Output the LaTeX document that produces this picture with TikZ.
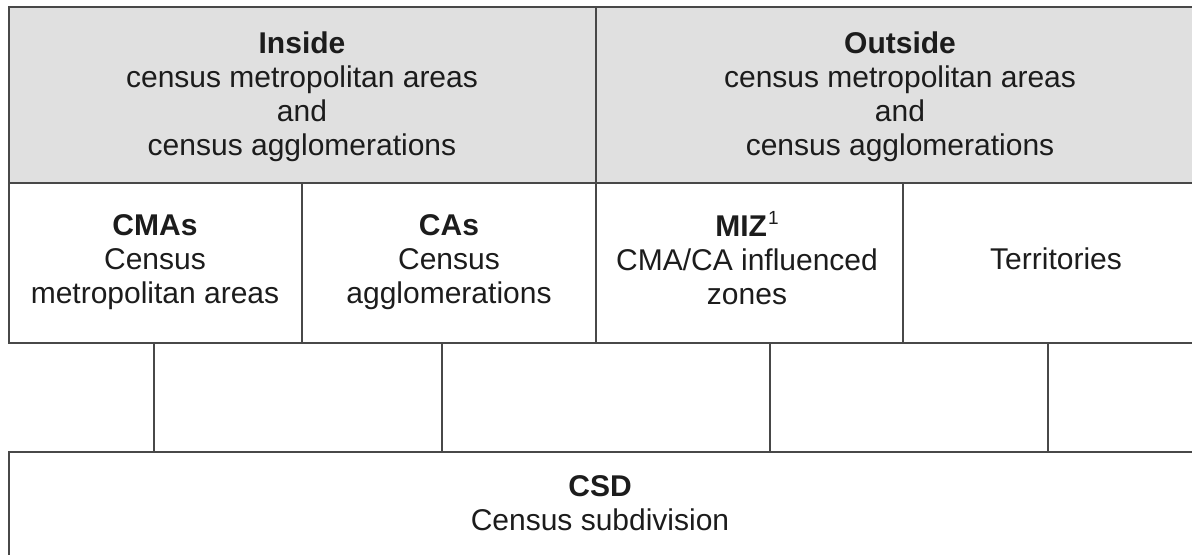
\documentclass[tikz,border=0pt]{standalone}
\usepackage{fontspec}
\setmainfont{Liberation Sans}
\definecolor{linec}{RGB}{72,72,72}
\definecolor{headfill}{RGB}{224,224,224}
\definecolor{txt}{RGB}{28,28,28}
\begin{document}
\begin{tikzpicture}[x=0.5pt,y=-0.5pt,
  gridline/.style={draw=linec,line width=1.2pt},
  lbl/.style={align=center,text=txt,inner sep=0pt,font=\fontsize{15}{17}\selectfont}]
\useasboundingbox (0,0) rectangle (1192,554);
% header fill
\fill[headfill] (9,7) rectangle (1215,183);
% grid lines
\draw[gridline] (1215,7) -- (9,7) -- (9,343) -- (1215,343);
\draw[gridline] (9,183) -- (1215,183);
\draw[gridline] (596,7) -- (596,343);
\draw[gridline] (302,183) -- (302,343);
\draw[gridline] (903,183) -- (903,343);
\draw[gridline] (154,343) -- (154,452);
\draw[gridline] (442,343) -- (442,452);
\draw[gridline] (770,343) -- (770,452);
\draw[gridline] (1048,343) -- (1048,452);
\draw[gridline] (1215,452) -- (9,452) -- (9,575);
% texts
\node[lbl] (inside) at (302,97) {\textbf{Inside}\\census metropolitan areas\\and\\census agglomerations};
\node[lbl] (outside) at (900,97) {\textbf{Outside}\\census metropolitan areas\\and\\census agglomerations};
\node[lbl] (cmas) at (155,262) {\textbf{CMAs}\\Census\\metropolitan areas};
\node[lbl] (cas) at (449,262) {\textbf{CAs}\\Census\\agglomerations};
\node[lbl] (miz) at (747,258) {\textbf{MIZ}\hspace{0.6pt}\raisebox{6pt}{\fontsize{9.5}{10}\selectfont 1}\\CMA/CA influenced\\zones};
\node[lbl] (terr) at (1056,259) {Territories};
\node[lbl] (csd) at (600,503) {\textbf{CSD}\\Census subdivision};
\end{tikzpicture}
\end{document}
